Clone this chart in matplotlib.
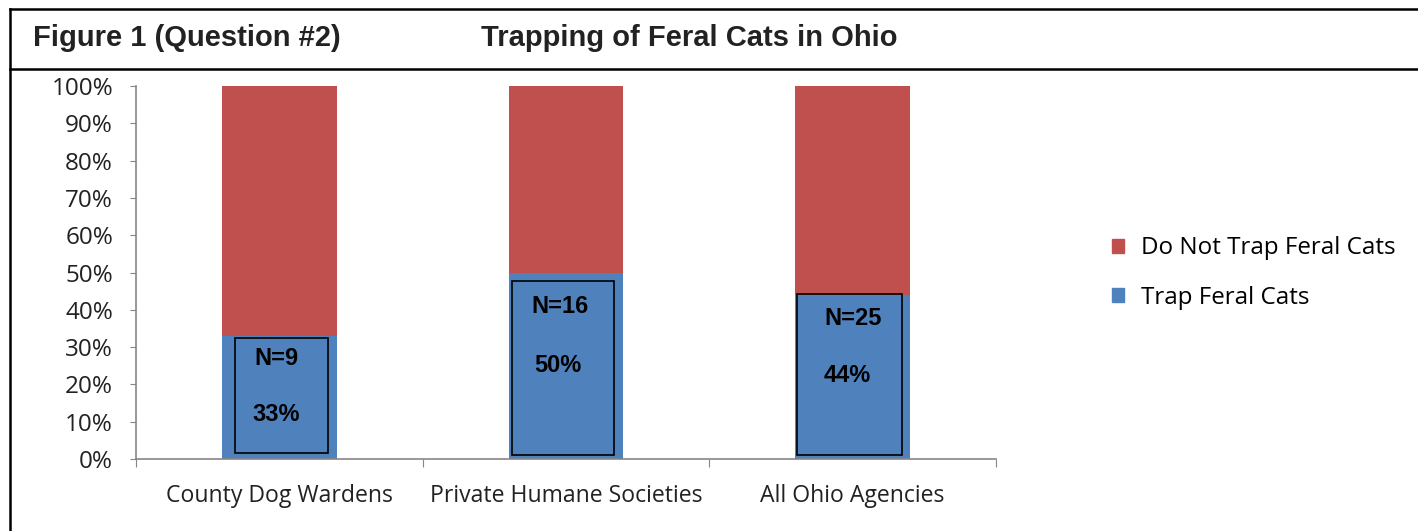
# Trapping of feral cats in Ohio - stacked percent bar chart
import matplotlib.pyplot as plt
from matplotlib.patches import Rectangle
from matplotlib.lines import Line2D
from matplotlib.ticker import PercentFormatter

categories = ["County Dog Wardens", "Private Humane Societies", "All Ohio Agencies"]
trap = [0.33, 0.50, 0.44]
no_trap = [0.67, 0.50, 0.56]
n_labels = ["N=9", "N=16", "N=25"]
pct_labels = ["33%", "50%", "44%"]
series_names = ["Trap Feral Cats", "Do Not Trap Feral Cats"]

RED = "#C0504D"
BLUE = "#4F81BD"
GRAY = "#868686"
LABEL_FONT = "Open Sans"

fig = plt.figure(figsize=(14.18, 5.31), dpi=100)
ax = fig.add_axes([136 / 1418, 1 - 459 / 531, (996 - 136) / 1418, (459 - 86) / 531])

x = range(len(categories))
b1 = ax.bar(x, trap, width=0.4, color=BLUE, label=series_names[0])
b2 = ax.bar(x, no_trap, width=0.4, bottom=trap, color=RED, label=series_names[1])

# boxed annotations inside the blue bars
boxes = [(-0.155, 0.016, 0.324, 0.308), (-0.188, 0.011, 0.355, 0.466), (-0.195, 0.011, 0.366, 0.431)]
n_pos = [(-0.01, 0.27), (-0.02, 0.41), (0.0, 0.378)]
p_pos = [(-0.01, 0.12), (-0.03, 0.25), (-0.02, 0.225)]
for i in x:
    bx, by, bw, bh = boxes[i]
    ax.add_patch(Rectangle((i + bx, by), bw, bh, fill=False, edgecolor="black", lw=1.2))
    ax.text(i + n_pos[i][0], n_pos[i][1], n_labels[i], ha="center", va="center",
            fontsize=17, fontweight="bold", family="Liberation Sans")
    ax.text(i + p_pos[i][0], p_pos[i][1], pct_labels[i], ha="center", va="center",
            fontsize=17, fontweight="bold", family="Liberation Sans")

ax.set_xlim(-0.5, 2.5)
ax.set_ylim(0, 1)
ax.set_yticks([i / 10 for i in range(11)])
ax.yaxis.set_major_formatter(PercentFormatter(1.0, decimals=0))
ax.set_xticks([-0.5, 0.5, 1.5, 2.5])
ax.set_xticklabels([])
ax.set_xticks(list(x), minor=True)
ax.set_xticklabels(categories, minor=True, family=LABEL_FONT, fontsize=16.6, color="#222222")
ax.tick_params(axis="x", which="minor", length=0, pad=18)
ax.tick_params(axis="x", which="major", length=6, color=GRAY, direction="out")
ax.tick_params(axis="y", length=4.5, color=GRAY, pad=12, labelsize=17.5, labelcolor="#222222")
for lab in ax.get_yticklabels():
    lab.set_family(LABEL_FONT)

for s in ["top", "right"]:
    ax.spines[s].set_visible(False)
for s in ["left", "bottom"]:
    ax.spines[s].set_color(GRAY)
    ax.spines[s].set_linewidth(1.2)

handles = [Rectangle((0, 0), 1, 1, color=RED), Rectangle((0, 0), 1, 1, color=BLUE)]
fig.legend(handles, [series_names[1], series_names[0]], loc="center left",
           bbox_to_anchor=(1090 / 1418, 1 - 273 / 531), frameon=False,
           handlelength=0.5, handleheight=0.5, handletextpad=0.7, labelspacing=1.05,
           prop={"family": LABEL_FONT, "size": 17.4})

# frame and title band
fig.add_artist(Line2D([10 / 1418, 1], [1 - 9 / 531] * 2, color="black", lw=1.8))
fig.add_artist(Line2D([10 / 1418, 1], [1 - 69 / 531] * 2, color="black", lw=1.8))
fig.add_artist(Line2D([10 / 1418] * 2, [0, 1 - 9 / 531], color="black", lw=1.8))
fig.text(33 / 1418, 1 - 38 / 531, "Figure 1 (Question #2)", fontsize=21, fontweight="bold",
         family="Liberation Sans", va="center", color="#222222")
fig.text(481 / 1418, 1 - 38 / 531, "Trapping of Feral Cats in Ohio", fontsize=21, fontweight="bold",
         family="Liberation Sans", va="center", color="#222222")

fig.savefig("out.png", dpi=100)
